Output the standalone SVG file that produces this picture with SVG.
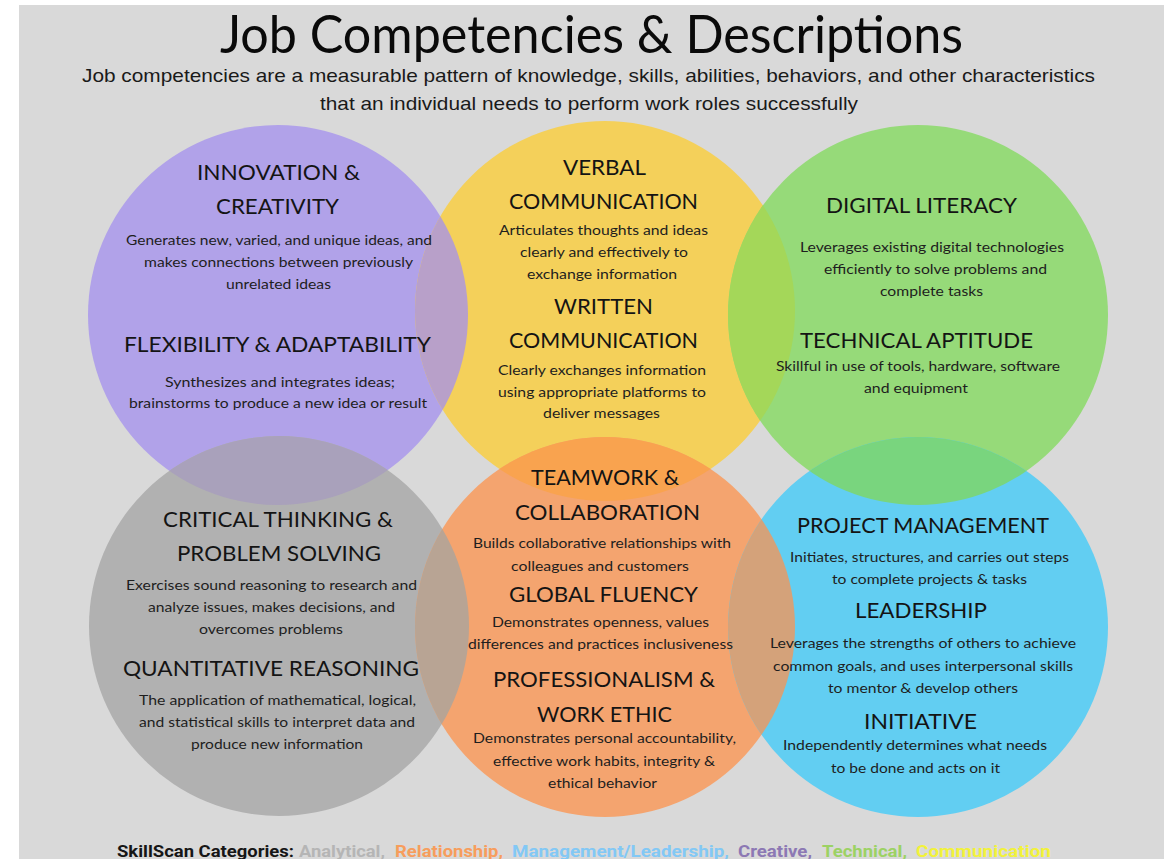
<svg xmlns="http://www.w3.org/2000/svg" width="1171" height="859" viewBox="0 0 1171 859">
<style>
.h{font-family:Lato,"Noto Sans","DejaVu Sans",sans-serif;font-size:22px;fill:#141414}
.d{font-family:Lato,"Noto Sans","DejaVu Sans",sans-serif;font-size:14px;fill:#1e1e1e}
.lg{font-family:Roboto,"Liberation Sans",sans-serif;font-size:17px;font-weight:700}
</style>
<defs>
<clipPath id="cP"><circle cx="278" cy="315" r="190"/></clipPath>
<clipPath id="cY"><circle cx="605" cy="311" r="190"/></clipPath>
<clipPath id="cG"><circle cx="918" cy="315" r="190"/></clipPath>
<clipPath id="cK"><circle cx="279" cy="626" r="190"/></clipPath>
<clipPath id="cO"><circle cx="605" cy="627" r="190"/></clipPath>
<clipPath id="cB"><circle cx="918" cy="627" r="190"/></clipPath>
</defs>
<rect x="0" y="0" width="1171" height="859" fill="#ffffff"/>
<rect x="19" y="5" width="1145" height="854" fill="#d9d9d9"/>
<g id="title">
<text x="220" y="53" font-family="Lato,'Noto Sans',sans-serif" font-size="53" fill="#0a0a0a" textLength="743" lengthAdjust="spacingAndGlyphs">Job Competencies &amp; Descriptions</text>
<text x="82" y="82" font-family="'Liberation Sans',Arial,sans-serif" font-size="19" fill="#1a1a1a" textLength="1013" lengthAdjust="spacingAndGlyphs">Job competencies are a measurable pattern of knowledge, skills, abilities, behaviors, and other characteristics</text>
<text x="320" y="110" font-family="'Liberation Sans',Arial,sans-serif" font-size="19" fill="#1a1a1a" textLength="538" lengthAdjust="spacingAndGlyphs">that an individual needs to perform work roles successfully</text>
</g>
<g id="circles">
<circle id="c-creative" cx="278" cy="315" r="190" fill="#b1a2e9"/>
<circle id="c-communication" cx="605" cy="311" r="190" fill="#f4d05a"/>
<circle id="c-technical" cx="918" cy="315" r="190" fill="#96da79"/>
<circle id="c-analytical" cx="279" cy="626" r="190" fill="#b1b1b1"/>
<circle id="c-relationship" cx="605" cy="627" r="190" fill="#f4a46f"/>
<circle id="c-management" cx="918" cy="627" r="190" fill="#62cef2"/>
</g>
<g id="overlaps">
<circle cx="605" cy="311" r="190" fill="#b8a0c9" clip-path="url(#cP)"/>
<circle cx="918" cy="315" r="190" fill="#a4d759" clip-path="url(#cY)"/>
<circle cx="279" cy="626" r="190" fill="#a9a1bb" clip-path="url(#cP)"/>
<circle cx="605" cy="627" r="190" fill="#f9a34f" clip-path="url(#cY)"/>
<circle cx="918" cy="627" r="190" fill="#79d57e" clip-path="url(#cG)"/>
<circle cx="605" cy="627" r="190" fill="#b8a494" clip-path="url(#cK)"/>
<circle cx="918" cy="627" r="190" fill="#d4a27a" clip-path="url(#cO)"/>
</g>
<g id="node-creative">
<text class="h" x="197" y="180" textLength="163" lengthAdjust="spacingAndGlyphs">INNOVATION &amp;</text>
<text class="h" x="216" y="214" textLength="123" lengthAdjust="spacingAndGlyphs">CREATIVITY</text>
<text class="d" x="126" y="245" textLength="306" lengthAdjust="spacingAndGlyphs">Generates new, varied, and unique ideas, and</text>
<text class="d" x="144" y="267" textLength="269" lengthAdjust="spacingAndGlyphs">makes connections between previously</text>
<text class="d" x="226" y="289" textLength="105" lengthAdjust="spacingAndGlyphs">unrelated ideas</text>
<text class="h" x="124" y="352" textLength="307" lengthAdjust="spacingAndGlyphs">FLEXIBILITY &amp; ADAPTABILITY</text>
<text class="d" x="165" y="387" textLength="230" lengthAdjust="spacingAndGlyphs">Synthesizes and integrates ideas;</text>
<text class="d" x="129" y="408" textLength="298" lengthAdjust="spacingAndGlyphs">brainstorms to produce a new idea or result</text>
</g>
<g id="node-communication">
<text class="h" x="563" y="175" textLength="83" lengthAdjust="spacingAndGlyphs">VERBAL</text>
<text class="h" x="509" y="209" textLength="189" lengthAdjust="spacingAndGlyphs">COMMUNICATION</text>
<text class="d" x="499" y="235" textLength="209" lengthAdjust="spacingAndGlyphs">Articulates thoughts and ideas</text>
<text class="d" x="520" y="257" textLength="168" lengthAdjust="spacingAndGlyphs">clearly and effectively to</text>
<text class="d" x="527" y="279" textLength="150" lengthAdjust="spacingAndGlyphs">exchange information</text>
<text class="h" x="554" y="314" textLength="99" lengthAdjust="spacingAndGlyphs">WRITTEN</text>
<text class="h" x="509" y="348" textLength="189" lengthAdjust="spacingAndGlyphs">COMMUNICATION</text>
<text class="d" x="498" y="375" textLength="208" lengthAdjust="spacingAndGlyphs">Clearly exchanges information</text>
<text class="d" x="498" y="397" textLength="208" lengthAdjust="spacingAndGlyphs">using appropriate platforms to</text>
<text class="d" x="543" y="418" textLength="117" lengthAdjust="spacingAndGlyphs">deliver messages</text>
</g>
<g id="node-technical">
<text class="h" x="826" y="213" textLength="191" lengthAdjust="spacingAndGlyphs">DIGITAL LITERACY</text>
<text class="d" x="800" y="252" textLength="264" lengthAdjust="spacingAndGlyphs">Leverages existing digital technologies</text>
<text class="d" x="824" y="274" textLength="223" lengthAdjust="spacingAndGlyphs">efficiently to solve problems and</text>
<text class="d" x="880" y="296" textLength="103" lengthAdjust="spacingAndGlyphs">complete tasks</text>
<text class="h" x="800" y="348" textLength="233" lengthAdjust="spacingAndGlyphs">TECHNICAL APTITUDE</text>
<text class="d" x="776" y="371" textLength="284" lengthAdjust="spacingAndGlyphs">Skillful in use of tools, hardware, software</text>
<text class="d" x="864" y="393" textLength="104" lengthAdjust="spacingAndGlyphs">and equipment</text>
</g>
<g id="node-analytical">
<text class="h" x="163" y="527" textLength="230" lengthAdjust="spacingAndGlyphs">CRITICAL THINKING &amp;</text>
<text class="h" x="177" y="561" textLength="204" lengthAdjust="spacingAndGlyphs">PROBLEM SOLVING</text>
<text class="d" x="126" y="590" textLength="291" lengthAdjust="spacingAndGlyphs">Exercises sound reasoning to research and</text>
<text class="d" x="148" y="612" textLength="247" lengthAdjust="spacingAndGlyphs">analyze issues, makes decisions, and</text>
<text class="d" x="199" y="634" textLength="144" lengthAdjust="spacingAndGlyphs">overcomes problems</text>
<text class="h" x="123" y="676" textLength="296" lengthAdjust="spacingAndGlyphs">QUANTITATIVE REASONING</text>
<text class="d" x="139" y="705" textLength="277" lengthAdjust="spacingAndGlyphs">The application of mathematical, logical,</text>
<text class="d" x="139" y="727" textLength="276" lengthAdjust="spacingAndGlyphs">and statistical skills to interpret data and</text>
<text class="d" x="191" y="749" textLength="172" lengthAdjust="spacingAndGlyphs">produce new information</text>
</g>
<g id="node-relationship">
<text class="h" x="531" y="485" textLength="148" lengthAdjust="spacingAndGlyphs">TEAMWORK &amp;</text>
<text class="h" x="515" y="520" textLength="185" lengthAdjust="spacingAndGlyphs">COLLABORATION</text>
<text class="d" x="473" y="548" textLength="258" lengthAdjust="spacingAndGlyphs">Builds collaborative relationships with</text>
<text class="d" x="511" y="571" textLength="178" lengthAdjust="spacingAndGlyphs">colleagues and customers</text>
<text class="h" x="509" y="602" textLength="189" lengthAdjust="spacingAndGlyphs">GLOBAL FLUENCY</text>
<text class="d" x="492" y="627" textLength="217" lengthAdjust="spacingAndGlyphs">Demonstrates openness, values</text>
<text class="d" x="468" y="649" textLength="265" lengthAdjust="spacingAndGlyphs">differences and practices inclusiveness</text>
<text class="h" x="493" y="687" textLength="222" lengthAdjust="spacingAndGlyphs">PROFESSIONALISM &amp;</text>
<text class="h" x="537" y="722" textLength="135" lengthAdjust="spacingAndGlyphs">WORK ETHIC</text>
<text class="d" x="473" y="743" textLength="263" lengthAdjust="spacingAndGlyphs">Demonstrates personal accountability,</text>
<text class="d" x="493" y="766" textLength="222" lengthAdjust="spacingAndGlyphs">effective work habits, integrity &amp;</text>
<text class="d" x="548" y="788" textLength="109" lengthAdjust="spacingAndGlyphs">ethical behavior</text>
</g>
<g id="node-management">
<text class="h" x="797" y="533" textLength="252" lengthAdjust="spacingAndGlyphs">PROJECT MANAGEMENT</text>
<text class="d" x="790" y="562" textLength="279" lengthAdjust="spacingAndGlyphs">Initiates, structures, and carries out steps</text>
<text class="d" x="832" y="584" textLength="195" lengthAdjust="spacingAndGlyphs">to complete projects &amp; tasks</text>
<text class="h" x="855" y="618" textLength="132" lengthAdjust="spacingAndGlyphs">LEADERSHIP</text>
<text class="d" x="770" y="648" textLength="306" lengthAdjust="spacingAndGlyphs">Leverages the strengths of others to achieve</text>
<text class="d" x="773" y="671" textLength="300" lengthAdjust="spacingAndGlyphs">common goals, and uses interpersonal skills</text>
<text class="d" x="828" y="693" textLength="190" lengthAdjust="spacingAndGlyphs">to mentor &amp; develop others</text>
<text class="h" x="864" y="729" textLength="113" lengthAdjust="spacingAndGlyphs">INITIATIVE</text>
<text class="d" x="783" y="750" textLength="264" lengthAdjust="spacingAndGlyphs">Independently determines what needs</text>
<text class="d" x="831" y="773" textLength="169" lengthAdjust="spacingAndGlyphs">to be done and acts on it</text>
</g>
<g id="legend">
<text class="lg" x="117" y="857" fill="#161616" textLength="177" lengthAdjust="spacingAndGlyphs">SkillScan Categories:</text>
<text class="lg" x="299" y="857" fill="#b5b5b5" textLength="86" lengthAdjust="spacingAndGlyphs">Analytical,</text>
<text class="lg" x="395" y="857" fill="#f79d5c" textLength="108" lengthAdjust="spacingAndGlyphs">Relationship,</text>
<text class="lg" x="512" y="857" fill="#82c8f5" textLength="217" lengthAdjust="spacingAndGlyphs">Management/Leadership,</text>
<text class="lg" x="738" y="857" fill="#8c78b4" textLength="74" lengthAdjust="spacingAndGlyphs">Creative,</text>
<text class="lg" x="822" y="857" fill="#9cd264" textLength="85" lengthAdjust="spacingAndGlyphs">Technical,</text>
<text class="lg" x="916" y="857" fill="#f2f23a" textLength="135" lengthAdjust="spacingAndGlyphs">Communication</text>
</g>
</svg>
